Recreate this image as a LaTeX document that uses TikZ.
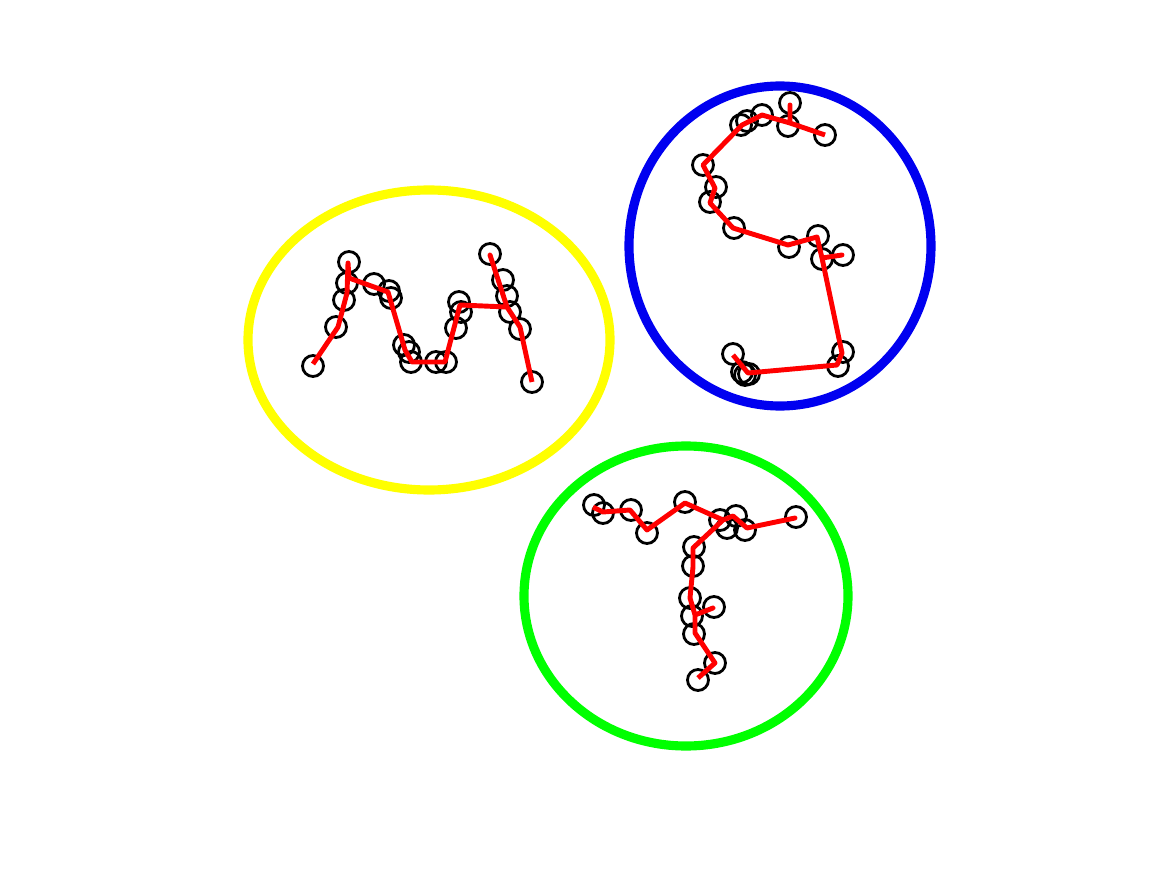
\documentclass[tikz,border=0pt]{standalone}
\usepackage{tikz}
\usetikzlibrary{positioning}
\definecolor{clyellow}{RGB}{255,255,0}
\definecolor{clblue}{RGB}{0,0,240}
\definecolor{clgreen}{RGB}{0,255,0}
\definecolor{trackred}{RGB}{255,0,0}

\begin{document}
\begin{tikzpicture}[x=0.02cm, y=-0.02cm,
    cluster/.style={line width=5.2pt},
    marker/.style={circle, draw=black, line width=1.6pt, minimum size=4.2mm, inner sep=0pt},
    track/.style={trackred, line width=2.8pt, line join=round}]

    \useasboundingbox (0,0) rectangle (1167,875);

    % cluster outlines
    \draw[cluster, clyellow] (429,340) ellipse [x radius=181, y radius=150];
    \draw[cluster, clblue] (780,246) ellipse [x radius=151, y radius=160];
    \draw[cluster, clgreen] (686,596) ellipse [x radius=162, y radius=150];

    % markers of the M stroke
    \foreach \px/\py [count=\i] in {313/366, 336/327, 344/300, 347/283, 349/262,
        374/284, 389/291, 391/298, 404/345, 409/352, 411/362, 436/362, 446/362,
        459/302, 461/312, 456/328, 490/254, 503/280, 507/296, 510/312, 520/329, 532/382}
        \node[marker] (m\i) at (\px,\py) {};

    % markers of the S stroke
    \foreach \px/\py [count=\i] in {790/103, 788/126, 825/135, 762/115, 747/121, 741/125,
        703/165, 716/187, 710/202, 734/228, 789/247, 818/236, 822/259, 843/255,
        843/352, 838/366, 733/354, 745/375, 749/374, 742/372}
        \node[marker] (s\i) at (\px,\py) {};

    % markers of the T stroke
    \foreach \px/\py [count=\i] in {594/505, 603/513, 631/510, 647/533, 685/502, 720/520,
        736/516, 727/528, 745/530, 796/517, 694/547, 693/566, 690/598, 714/607,
        692/616, 694/634, 715/663, 698/680}
        \node[marker] (t\i) at (\px,\py) {};

    % tracks
    \draw[track] plot coordinates {(313,364) (338,327) (347,293) (348,263) (349,278)
        (388,292) (405,350) (412,362) (445,362) (460,305) (507,307) (490,255)
        (507,307) (520,327) (532,382)};
    \draw[track] plot coordinates {(825,135) (790,123) (790,105) (790,123) (762,115)
        (742,125) (703,165) (715,188) (710,203) (733,228) (788,245) (817,237)
        (822,258) (842,255) (822,258) (842,353) (837,365) (748,373) (733,355)};
    \draw[track] plot coordinates {(593,507) (603,512) (630,510) (647,530) (685,503)
        (723,520) (733,516) (747,528) (795,518) (747,528) (733,516) (723,520)
        (693,548) (693,567) (690,598) (695,615) (713,608) (695,615) (695,633)
        (715,663) (698,678)};
\end{tikzpicture}
\end{document}
